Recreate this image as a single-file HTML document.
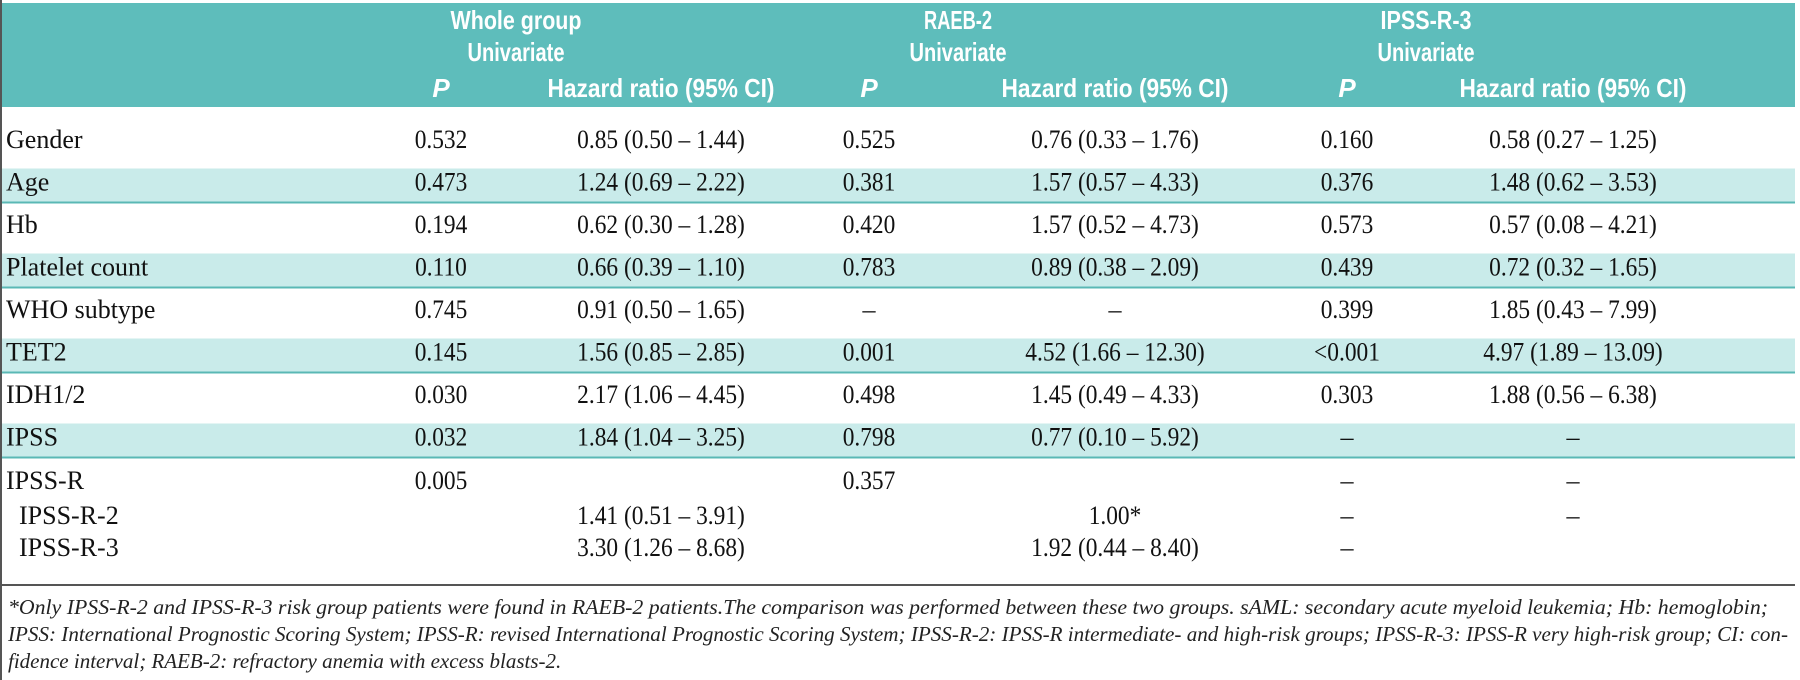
<!DOCTYPE html>
<html><head><meta charset="utf-8">
<style>
html,body{margin:0;padding:0;background:#fff;}
svg{display:block;}
.hd{font-family:"Liberation Sans Narrow","Liberation Sans",sans-serif;font-weight:bold;font-size:26px;fill:#fff;}
.bd{font-family:"Liberation Serif",serif;font-size:26px;fill:#111;}
.fn{font-family:"Liberation Serif",serif;font-style:italic;font-size:21px;fill:#222;}
</style></head>
<body>
<svg id="tbl" width="1800" height="680" viewBox="0 0 1800 680">
  <rect x="0" y="3" width="1795" height="104" fill="#5ebdbb"/>
  <g id="bands"></g>
  <line x1="1" y1="0" x2="1" y2="680" stroke="#555" stroke-width="2"/>
  <g id="header"></g>
  <g id="body"></g>
  <line x1="0" y1="585" x2="1795" y2="585" stroke="#555" stroke-width="2"/>
  <g id="foot"></g>
</svg>
<script>
const rowLabels = ["Gender","Age","Hb","Platelet count","WHO subtype","TET2","IDH1/2","IPSS","IPSS-R","IPSS-R-2","IPSS-R-3"];
const wholeP = ["0.532","0.473","0.194","0.110","0.745","0.145","0.030","0.032","0.005","",""];
const wholeHR = ["0.85 (0.50 – 1.44)","1.24 (0.69 – 2.22)","0.62 (0.30 – 1.28)","0.66 (0.39 – 1.10)","0.91 (0.50 – 1.65)","1.56 (0.85 – 2.85)","2.17 (1.06 – 4.45)","1.84 (1.04 – 3.25)","","1.41 (0.51 – 3.91)","3.30 (1.26 – 8.68)"];
const raebP = ["0.525","0.381","0.420","0.783","–","0.001","0.498","0.798","0.357","",""];
const raebHR = ["0.76 (0.33 – 1.76)","1.57 (0.57 – 4.33)","1.57 (0.52 – 4.73)","0.89 (0.38 – 2.09)","–","4.52 (1.66 – 12.30)","1.45 (0.49 – 4.33)","0.77 (0.10 – 5.92)","","1.00*","1.92 (0.44 – 8.40)"];
const ipssP = ["0.160","0.376","0.573","0.439","0.399","<0.001","0.303","–","–","–","–"];
const ipssHR = ["0.58 (0.27 – 1.25)","1.48 (0.62 – 3.53)","0.57 (0.08 – 4.21)","0.72 (0.32 – 1.65)","1.85 (0.43 – 7.99)","4.97 (1.89 – 13.09)","1.88 (0.56 – 6.38)","–","–","–",""];
const groupTitles = ["Whole group","RAEB-2","IPSS-R-3"];
const footLines = [
 "*Only IPSS-R-2 and IPSS-R-3 risk group patients were found in RAEB-2 patients.The comparison was performed between these two groups. sAML: secondary acute myeloid leukemia; Hb: hemoglobin;",
 "IPSS: International Prognostic Scoring System; IPSS-R: revised International Prognostic Scoring System; IPSS-R-2: IPSS-R intermediate- and high-risk groups; IPSS-R-3: IPSS-R very high-risk group; CI: con-",
 "fidence interval; RAEB-2: refractory anemia with excess blasts-2."
];

const NS="http://www.w3.org/2000/svg";
const colP=[441,869,1347], colHR=[661,1115,1573], titleX=[516,958,1426];
const titleW=[131,68,91];
const rowCenters=[139,181.5,224,266.5,309,351.5,394,436.5,480,515,547];
function mk(parent,tag,attrs,txt){const e=document.createElementNS(NS,tag);for(const k in attrs)e.setAttribute(k,attrs[k]);if(txt!==undefined)e.textContent=txt;parent.appendChild(e);return e;}

const bands=document.getElementById('bands');
[1,3,5,7].forEach(i=>{
  const r=mk(bands,'rect',{x:0,y:rowCenters[i]-13,width:1795,height:34,fill:'#c9ebea'});
  
  
  const l=mk(bands,'line',{x1:0,x2:1795,y1:rowCenters[i]+21,y2:rowCenters[i]+21,stroke:'#5ab8b5','stroke-width':2});
  
  
});

const hd=document.getElementById('header');
groupTitles.forEach((t,g)=>{
  const a=mk(hd,'text',{x:titleX[g],y:29,'text-anchor':'middle',class:'hd',textLength:titleW[g],lengthAdjust:'spacingAndGlyphs'},t);
  
  
  const b=mk(hd,'text',{x:titleX[g],y:61,'text-anchor':'middle',class:'hd',textLength:97,lengthAdjust:'spacingAndGlyphs'},'Univariate');
  
  
  const p=mk(hd,'text',{x:colP[g],y:97,'text-anchor':'middle',class:'hd','font-style':'italic'},'P');
  
  
  const h=mk(hd,'text',{x:colHR[g],y:97,'text-anchor':'middle',class:'hd',textLength:227,lengthAdjust:'spacingAndGlyphs'},'Hazard ratio (95% CI)');
  
  
});

const bd=document.getElementById('body');
const cols=[wholeP,wholeHR,raebP,raebHR,ipssP,ipssHR];
const colX=[colP[0],colHR[0],colP[1],colHR[1],colP[2],colHR[2]];
rowLabels.forEach((lab,i)=>{
  const y=rowCenters[i]+9;
  const indent=(i>=9)?19:6;
  const t=mk(bd,'text',{x:indent,y:y,class:'bd'},lab);
  
  
  cols.forEach((c,j)=>{
    if(!c[i])return;
    const v=mk(bd,'text',{x:colX[j],y:y,'text-anchor':'middle',class:'bd'},c[i]);
    
    
    const w=v.getComputedTextLength();
    if(w>20){v.setAttribute('textLength',(w*0.9).toFixed(1));v.setAttribute('lengthAdjust','spacingAndGlyphs');}
  });
});

const ft=document.getElementById('foot');
const footY=[614,641,668], footW=[1760,1780,0];
footLines.forEach((s,i)=>{
  const f=mk(ft,'text',{x:8,y:footY[i],class:'fn'},s);
  
  
  if(footW[i]){f.setAttribute('textLength',footW[i]);f.setAttribute('lengthAdjust','spacingAndGlyphs');}
});
</script>
</body></html>
